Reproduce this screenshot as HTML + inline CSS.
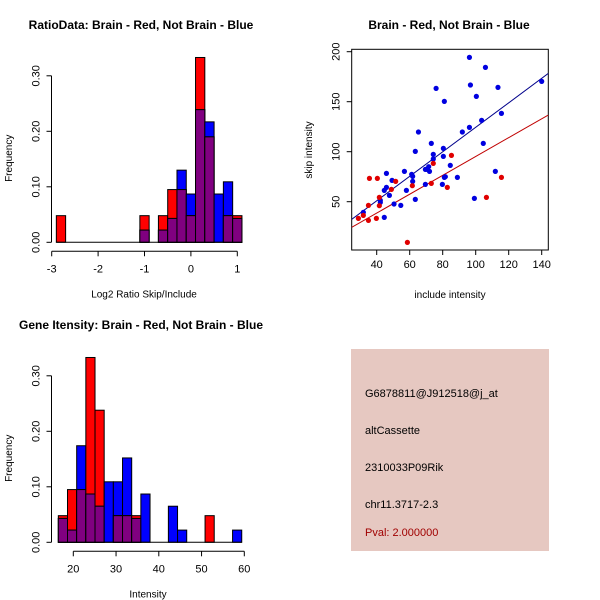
<!DOCTYPE html>
<html><head><meta charset="utf-8"><style>
body{margin:0;background:#fff;}
svg{display:block;font-family:"Liberation Sans",sans-serif;}
</style></head><body>
<svg id="c" width="600" height="600" viewBox="0 0 600 600">
<rect x="351" y="349" width="198" height="202" fill="#e6c8c1"/>
<text x="365" y="397" font-size="11">G6878811@J912518@j_at</text>
<text x="365" y="434" font-size="11">altCassette</text>
<text x="365" y="471" font-size="11">2310033P09Rik</text>
<text x="365" y="508" font-size="11">chr11.3717-2.3</text>
<text x="365" y="536" font-size="11" fill="#a00000">Pval: 2.000000</text>
</svg>
<script>
// ---- Histogram 1: log2 ratio ----
const h1Start = -2.9, h1Width = 0.2;
const h1Red  = [0.048,0,0,0,0,0,0,0,0,0.048,0,0.048,0.095,0.095,0.048,0.333,0.19,0,0.048,0.048];
const h1Blue = [0,0,0,0,0,0,0,0,0,0.022,0,0.022,0.043,0.13,0.087,0.239,0.217,0.087,0.109,0.043];
const h1XTicks = [-3,-2,-1,0,1];
const h1YTicks = [0,0.1,0.2,0.3];
const h1YLabels = ["0.00","0.10","0.20","0.30"];
// ---- Histogram 2: intensity ----
const h2Start = 16.5, h2Width = 2.145;
const h2Red  = [0.048,0.095,0.095,0.333,0.238,0,0.048,0.048,0.048,0,0,0,0,0,0,0,0.048,0,0,0];
const h2Blue = [0.043,0.022,0.174,0.087,0.065,0.109,0.109,0.152,0.043,0.087,0,0,0.065,0.022,0,0,0,0,0,0.022];
const h2XTicks = [20,30,40,50,60];
const h2YTicks = [0,0.1,0.2,0.3];
const h2YLabels = ["0.00","0.10","0.20","0.30"];
// ---- Scatter ----
const blueX = [96.2,105.9,96.8,76,113.5,81,100.4,140,115.6,103.6,91.9,96.2,65.3,104.6,73.1,63.4,80.4,80.4,74.3,74.3,56.8,61.2,61.8,61.8,45.9,69.5,70.7,72,71.5,84.6,111.9,81,81.6,88.9,69.5,79.8,63.4,58,49.3,44.6,45.9,47.7,42.2,42.2,50.5,54.6,99.2,44.6,31.9];
const blueY = [194.3,184.3,166.7,163.3,164.3,150.3,155.3,170.3,138.3,131.3,119.7,124.3,119.7,108.3,108.3,100.3,103.3,95.3,97.3,92.7,80.3,77.3,75.3,70.3,78.3,82.3,82.3,80.3,85,86.3,80.3,74.3,75,74.3,67.3,67.3,52.3,61.3,71.3,61.3,64.3,56.3,49.3,51.3,47.7,46.3,53.3,34.3,39.3];
const redX = [35.6,40.4,51.5,61.6,48.9,74.3,85.3,73.1,82.8,115.6,106.5,41.6,41.6,35,28.9,31.9,35,39.8,58.6];
const redY = [73.3,73.3,70.3,66,62.3,88.3,96.3,68.3,64.3,74.3,54.3,54.3,46,46.3,33.3,36.3,31.3,33.3,9.3];
const blueFit = [1.9,1.225];  // intercept, slope
const redFit = [0.9,0.943];
const scXTicks = [40,60,80,100,120,140];
const scYTicks = [50,100,150,200];

const svg = document.getElementById('c');
const NS = 'http://www.w3.org/2000/svg';
function mk(tag, attrs, parent){const e=document.createElementNS(NS,tag);for(const k in attrs)e.setAttribute(k,attrs[k]);(parent||svg).appendChild(e);return e;}
function txt(x,y,s,size,extra){const t=mk('text',Object.assign({x:x,y:y,'font-size':size,'text-anchor':'middle'},extra||{}));t.textContent=s;return t;}

function hist(cfg){
  const xs=v=>cfg.x0+(v-cfg.v0)*cfg.xs, ys=v=>cfg.y0-v*cfg.ys;
  const g=mk('g',{});
  
  
  for(let i=0;i<cfg.red.length;i++){
    const r=cfg.red[i], b=cfg.blue[i], m=Math.min(r,b);
    const xa=xs(cfg.start+i*cfg.w), xb=xs(cfg.start+(i+1)*cfg.w);
    const layers=[[r,'#ff0000','red'],[b,'#0000ff','blue'],[m,'#800080','overlap']];
    layers.sort((a,c)=>c[0]-a[0]);
    for(const L of layers){
      if(L[0]<=0) continue;
      const rc=mk('rect',{x:xa,y:ys(L[0]),width:xb-xa,height:ys(0)-ys(L[0]),fill:L[1],stroke:'#000','stroke-width':1},g);
      
      
    }
  }
  mk('line',{x1:xs(cfg.start),x2:xs(cfg.start+cfg.red.length*cfg.w),y1:ys(0),y2:ys(0),stroke:'#000'},g);
  const xa=mk('g',{},g);
  
  
  const ay=ys(0)+9;
  mk('line',{x1:xs(cfg.xt[0]),x2:xs(cfg.xt[cfg.xt.length-1]),y1:ay,y2:ay,stroke:'#000'},xa);
  cfg.xt.forEach(v=>{mk('line',{x1:xs(v),x2:xs(v),y1:ay,y2:ay+5,stroke:'#000'},xa);txt(xs(v),ay+21,String(v),11);});
  const ya=mk('g',{},g);
  
  
  const axx=cfg.yaxisX;
  mk('line',{x1:axx,x2:axx,y1:ys(cfg.yt[0]),y2:ys(cfg.yt[cfg.yt.length-1]),stroke:'#000'},ya);
  cfg.yt.forEach((v,i)=>{mk('line',{x1:axx-5,x2:axx,y1:ys(v),y2:ys(v),stroke:'#000'},ya);
    const t=txt(axx-12,ys(v),cfg.yl[i],11,{transform:`rotate(-90 ${axx-12} ${ys(v)})`});});
  const yt=txt(12,cfg.y0-84,'Frequency',10,{transform:`rotate(-90 12 ${cfg.y0-84})`});
  
  const xt=txt(cfg.xtitleX,cfg.y0+55,cfg.xtitle,10);
  
  const tt=txt(cfg.titleX,cfg.titleY,cfg.title,12,{'font-weight':'bold'});
  
}
hist({name:'ratio-histogram',x0:51.7,v0:-3,xs:46.4,y0:242.3,ys:555,start:h1Start,w:h1Width,red:h1Red,blue:h1Blue,xt:h1XTicks,yt:h1YTicks,yl:h1YLabels,yaxisX:51.5,xtitle:'Log2 Ratio Skip/Include',xtitleX:144,title:'RatioData: Brain - Red, Not Brain - Blue',titleX:141,titleY:29});
hist({name:'intensity-histogram',x0:73.3,v0:20,xs:4.275,y0:542.3,ys:555,start:h2Start,w:h2Width,red:h2Red,blue:h2Blue,xt:h2XTicks,yt:h2YTicks,yl:h2YLabels,yaxisX:51.5,xtitle:'Intensity',xtitleX:148,title:'Gene Itensity: Brain - Red, Not Brain - Blue',titleX:141,titleY:329});

(function(){
  const L=351.7,R=548.3,T=49.3,B=250;
  const xs=v=>376.7+(v-40)*1.65, ys=v=>201.7-(v-50)*1.0;
  const g=mk('g',{});
  
  
  mk('rect',{x:L,y:T,width:R-L,height:B-T,fill:'none',stroke:'#000'},g);
  const vmin=(L-376.7)/1.65+40, vmax=(R-376.7)/1.65+40;
  const fits=[[blueFit,'#00008b','blue-fit-line'],[redFit,'#c00000','red-fit-line']];
  const cp=mk('clipPath',{id:'cp'},g);mk('rect',{x:L,y:T,width:R-L,height:B-T},cp);
  fits.forEach(f=>{const l=mk('line',{x1:xs(vmin),y1:ys(f[0][0]+f[0][1]*vmin),x2:xs(vmax),y2:ys(f[0][0]+f[0][1]*vmax),stroke:f[1],'clip-path':'url(#cp)'},g);
    });
  blueX.forEach((x,i)=>{const c=mk('circle',{cx:xs(x),cy:ys(blueY[i]),r:2.6,fill:'#0000e0'},g);});
  redX.forEach((x,i)=>{const c=mk('circle',{cx:xs(x),cy:ys(redY[i]),r:2.6,fill:'#e00000'},g);});
  scXTicks.forEach(v=>{mk('line',{x1:xs(v),x2:xs(v),y1:B,y2:B+5,stroke:'#000'},g);const t=txt(xs(v),B+18,String(v),11);});
  scYTicks.forEach(v=>{mk('line',{x1:L-5,x2:L,y1:ys(v),y2:ys(v),stroke:'#000'},g);const t=txt(L-12,ys(v),String(v),11,{transform:`rotate(-90 ${L-12} ${ys(v)})`});});
  const xt=txt(450,298,'include intensity',10);
  const yt=txt(312,150,'skip intensity',10,{transform:'rotate(-90 312 150)'});
  const tt=txt(449,29,'Brain - Red, Not Brain - Blue',12,{'font-weight':'bold'});
})();
</script>
</body></html>
